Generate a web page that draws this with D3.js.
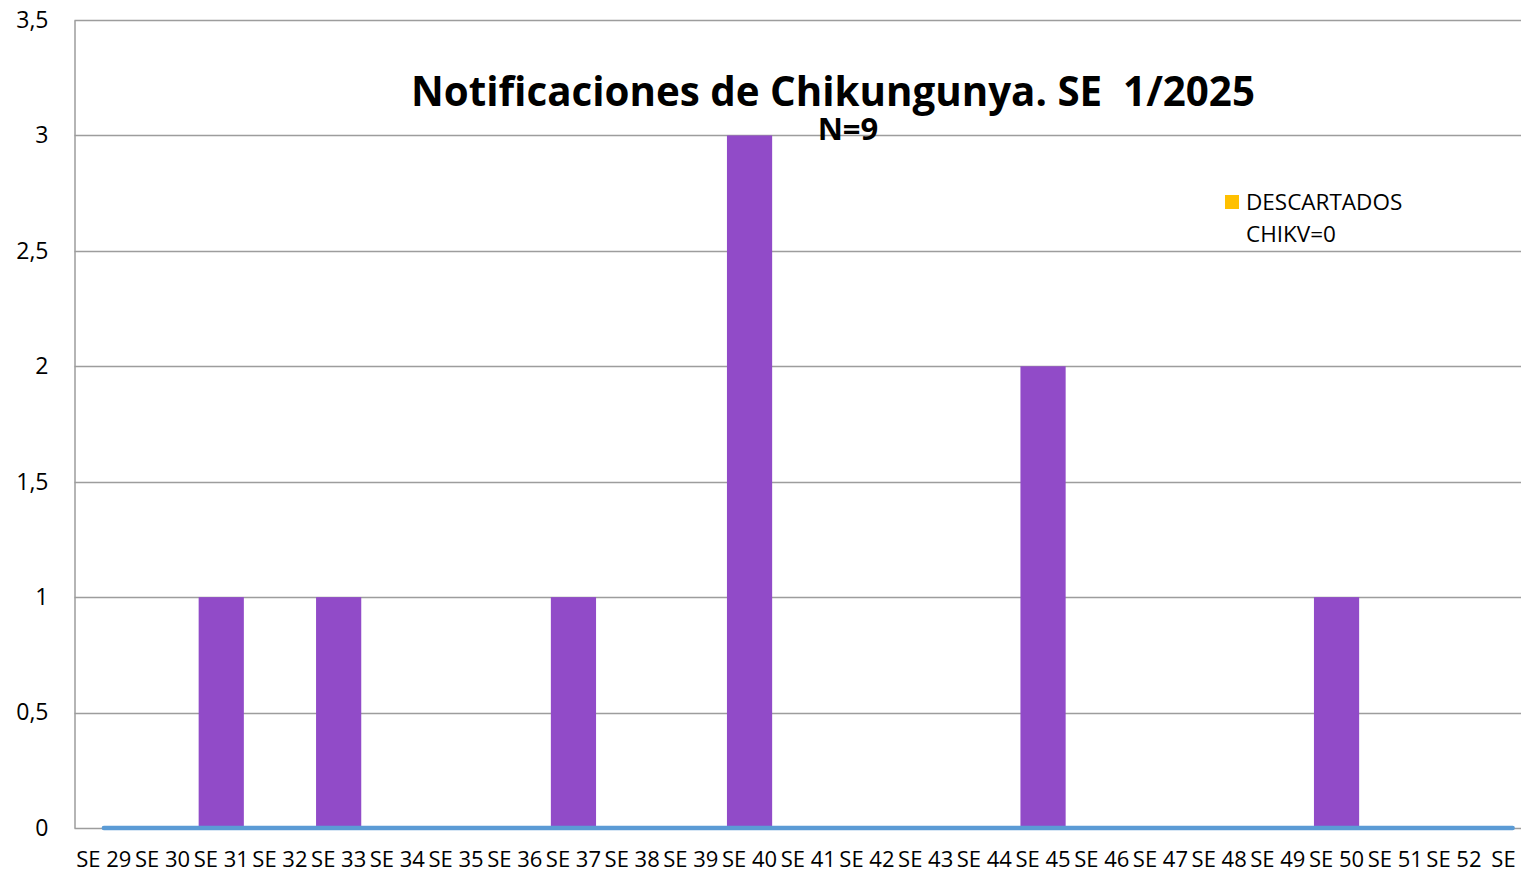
<!DOCTYPE html>
<html>
<head>
<meta charset="utf-8">
<script src="https://cdn.jsdelivr.net/npm/d3@7"></script>
<style>
  html, body { margin: 0; padding: 0; background: #fff; overflow: hidden; }
  text { font-family: "Open Sans", "Noto Sans", sans-serif; }
</style>
</head>
<body>
<svg id="chart" width="1521" height="873"></svg>
<script>
// ── Data ─────────────────────────────────────────────────────────────────────
const weeks = ['SE 29', 'SE 30', 'SE 31', 'SE 32', 'SE 33', 'SE 34', 'SE 35', 'SE 36',
  'SE 37', 'SE 38', 'SE 39', 'SE 40', 'SE 41', 'SE 42', 'SE 43', 'SE 44', 'SE 45',
  'SE 46', 'SE 47', 'SE 48', 'SE 49', 'SE 50', 'SE 51', 'SE 52', 'SE 1'];
const notificados = [0, 0, 1, 0, 1, 0, 0, 0, 1, 0, 0, 3, 0, 0, 0, 0, 2, 0, 0, 0, 0, 1, 0, 0, 0];
const descartados = [0, 0, 0, 0, 0, 0, 0, 0, 0, 0, 0, 0, 0, 0, 0, 0, 0, 0, 0, 0, 0, 0, 0, 0, 0];
const yTicks      = [0, 0.5, 1, 1.5, 2, 2.5, 3, 3.5];

// ── Layout ───────────────────────────────────────────────────────────────────
const PLOT_LEFT   = 74.5;
const PLOT_TOP    = 20;
const PLOT_BOTTOM = 828;
const STEP        = 58.7;
const PLOT_RIGHT  = PLOT_LEFT + STEP * weeks.length;   // runs past the frame edge

const svg = d3.select('#chart');

const x = d3.scaleBand()
  .domain(weeks)
  .range([PLOT_LEFT, PLOT_RIGHT])
  .paddingInner(0.23)
  .paddingOuter(0.115);

const y = d3.scaleLinear().domain([0, 3.5]).range([PLOT_BOTTOM, PLOT_TOP]);

const fmt = v => String(v).replace('.', ',');

// gridlines
svg.append('g')
  .selectAll('line')
  .data(yTicks.filter(d => d > 0))
  .join('line')
  .attr('x1', PLOT_LEFT).attr('x2', PLOT_RIGHT)
  .attr('y1', d => Math.round(y(d)) + 0.5).attr('y2', d => Math.round(y(d)) + 0.5)
  .attr('stroke', '#9d9d9d').attr('stroke-width', 1.5);

// y axis
const yAxis = svg.append('g')
  .attr('transform', `translate(${PLOT_LEFT},0)`)
  .call(d3.axisLeft(y).tickValues(yTicks).tickFormat(fmt).tickSize(0).tickPadding(26));
yAxis.select('.domain').attr('stroke', '#9d9d9d').attr('stroke-width', 1.5);
yAxis.selectAll('text').attr('font-size', 23).attr('fill', '#000')
  .attr('font-family', '"Open Sans", sans-serif');

// x baseline
svg.append('line')
  .attr('x1', PLOT_LEFT).attr('x2', PLOT_RIGHT)
  .attr('y1', PLOT_BOTTOM + 0.5).attr('y2', PLOT_BOTTOM + 0.5)
  .attr('stroke', '#9d9d9d').attr('stroke-width', 1.5);

// bars
svg.append('g')
  .selectAll('rect')
  .data(weeks.map((w, i) => ({ w, v: notificados[i] })))
  .join('rect')
  .attr('x', d => x(d.w))
  .attr('width', x.bandwidth())
  .attr('y', d => y(d.v))
  .attr('height', d => y(0) - y(d.v))
  .attr('fill', '#914BC8');

// descartados line (all zero)
const line = d3.line()
  .x((d, i) => x(weeks[i]) + x.bandwidth() / 2)
  .y(d => y(d));
svg.append('path')
  .datum(descartados)
  .attr('d', line)
  .attr('fill', 'none')
  .attr('stroke', '#5B9BD5')
  .attr('stroke-width', 4.5)
  .attr('stroke-linecap', 'round');

// x axis labels
const xAxis = svg.append('g')
  .attr('transform', `translate(0,${PLOT_BOTTOM})`)
  .call(d3.axisBottom(x).tickSize(0).tickPadding(23));
xAxis.select('.domain').remove();
xAxis.selectAll('text').attr('font-size', 22).attr('fill', '#000')
  .attr('font-family', '"Open Sans", sans-serif');

// title
svg.append('text')
  .attr('x', 833).attr('y', 106)
  .attr('text-anchor', 'middle')
  .attr('font-size', 40.3).attr('font-weight', 'bold')
  .attr('fill', '#000')
  .attr('xml:space', 'preserve')
  .text('Notificaciones de Chikungunya. SE  1/2025');
svg.append('text')
  .attr('x', 848).attr('y', 140)
  .attr('text-anchor', 'middle')
  .attr('font-size', 31).attr('font-weight', 'bold')
  .attr('fill', '#000')
  .text('N=9');

// legend
const legend = svg.append('g');
legend.append('rect')
  .attr('x', 1225).attr('y', 195).attr('width', 14).attr('height', 14)
  .attr('fill', '#FFC000');
legend.append('text')
  .attr('x', 1246).attr('y', 210)
  .attr('font-size', 22.5).attr('fill', '#000')
  .text('DESCARTADOS');
legend.append('text')
  .attr('x', 1246).attr('y', 242)
  .attr('font-size', 22.5).attr('fill', '#000')
  .text('CHIKV=0');
</script>
</body>
</html>
